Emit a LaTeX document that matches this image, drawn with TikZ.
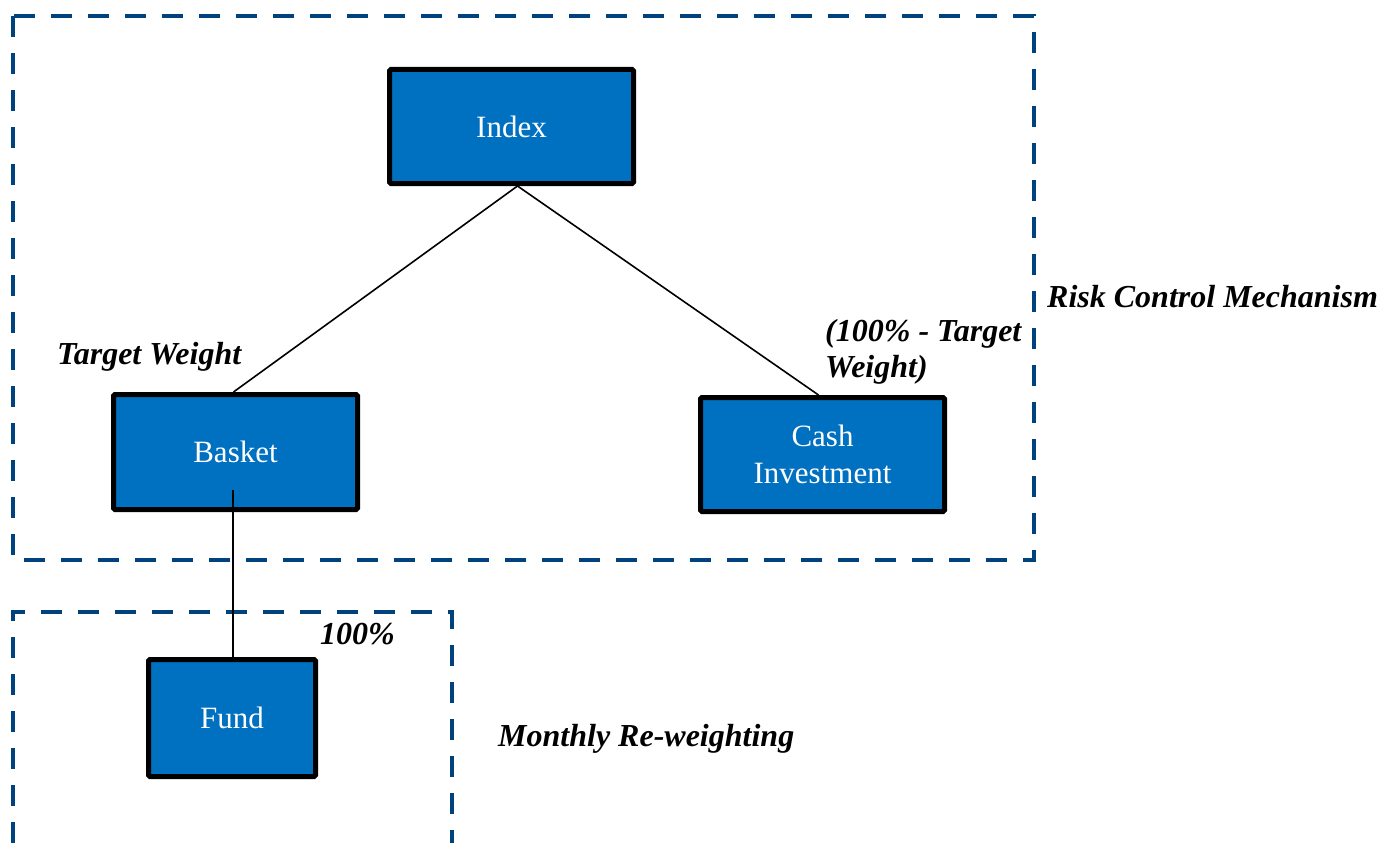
\documentclass[tikz,border=0pt]{standalone}
\usepackage{fontspec}
\setmainfont{Liberation Serif}
\definecolor{boxblue}{RGB}{0,112,192}
\definecolor{dashblue}{RGB}{0,66,126}
\tikzset{
  blk/.style={draw=black, line width=5pt, fill=boxblue, text=white, rounded corners=1.5pt,
    inner sep=0pt, align=center, font=\fontsize{31}{37}\selectfont},
  lbl/.style={inner sep=0pt, text=black, align=left, font=\fontsize{32}{36}\selectfont\bfseries\itshape},
  region/.style={draw=dashblue, line width=4pt, dash pattern=on 21pt off 16pt},
  conn/.style={draw=black, line width=1.6pt}
}
\begin{document}
\begin{tikzpicture}[x=1pt,y=-1pt]
\useasboundingbox (0,0) rectangle (1379,843);
% dashed regions
\draw[region] (13,16) rectangle (1034,560);
\draw[region] (13,843) -- (13,612) -- (452,612) -- (452,843);
% boxes
\node[blk, minimum width=244pt, minimum height=114pt] (Index) at (511.5,126.5) {Index};
\node[blk, minimum width=244pt, minimum height=115pt] (Basket) at (235.5,452) {Basket};
\node[blk, minimum width=244pt, minimum height=114pt] (Cash) at (822.5,454.5) {Cash\\Investment};
\node[blk, minimum width=167pt, minimum height=117pt] (Fund) at (232,718) {Fund};
% connectors
\coordinate (apex) at ([xshift=6pt]Index.south);
\draw[conn] (apex) -- ([xshift=-2pt]Basket.north);
\draw[conn] (apex) -- ([xshift=-4pt]Cash.north);
\coordinate (bstart) at (233,490);
\draw[conn] (bstart) -- (233,657) coordinate (fend);
% labels
\node[lbl, anchor=base west] (rcm) at (1047,307) {Risk Control Mechanism};
\node[lbl, anchor=base west] (tw) at (57,364) {Target Weight};
\node[lbl, anchor=base west] (ctw1) at (825,341) {(100\% - Target};
\node[lbl, anchor=base west] (ctw2) at (825,377) {Weight)};
\node[lbl, anchor=base west] (hund) at (320,644) {100\%};
\node[lbl, anchor=base west] (mrw) at (498,746) {Monthly Re-weighting};
\end{tikzpicture}
\end{document}
